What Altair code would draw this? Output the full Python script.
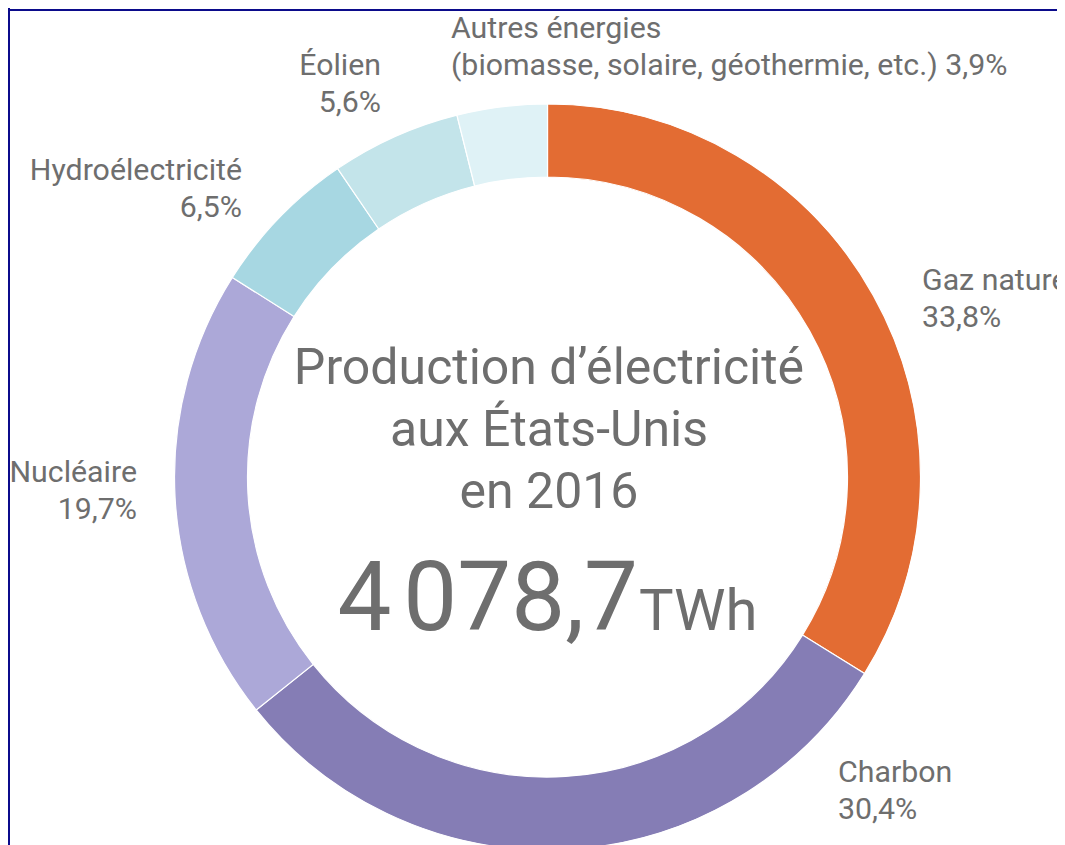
import altair as alt
import pandas as pd

# ---- data ----
CATEGORIES = ["Gaz naturel", "Charbon", "Nucléaire", "Hydroélectricité", "Éolien",
              "Autres énergies (biomasse, solaire, géothermie, etc.)"]
SHARES = [33.8, 30.4, 19.7, 6.5, 5.6, 3.9]
LABEL_NAMES = ["Gaz naturel", "Charbon", "Nucléaire", "Hydroélectricité", "Éolien",
               "Autres énergies\n(biomasse, solaire, géothermie, etc.)"]
PCT_SEPARATORS = ["\n", "\n", "\n", "\n", "\n", " "]
COLORS = ["#e36c33", "#857db5", "#aca8d8", "#a7d7e2", "#c3e4ea", "#dff2f6"]
TITLE_LINES = ["Production d’électricité", "aux États-Unis", "en 2016"]
TOTAL_TWH = 4078.7
UNIT = "TWh"

# ---- layout (pixels) ----
W, H = 1049, 837
CX, CY = 539.5, 469
R_OUT, R_IN = 373, 300
TEXT_COLOR = "#6e6e6e"
FONT = "Roboto"
# label anchor (x, y of first baseline) and alignment
LABEL_LAYOUT = [
    (914, 282, "left"),
    (830, 774, "left"),
    (129, 474, "right"),
    (234, 172, "right"),
    (373, 67, "right"),
    (443, 30, "left"),
]


def fr_pct(v):
    return f"{v:.1f}".replace(".", ",") + "%"


def fr_num(v):
    return f"{v:,.1f}".replace(",", "\u202f").replace(".", ",")


slices = pd.DataFrame({"cat": CATEGORIES, "share": SHARES, "idx": list(range(len(SHARES)))})

labels = pd.DataFrame({
    "text": [n + s + fr_pct(v) for n, s, v in zip(LABEL_NAMES, PCT_SEPARATORS, SHARES)],
    "px": [p[0] for p in LABEL_LAYOUT],
    "py": [p[1] for p in LABEL_LAYOUT],
    "side": [p[2] for p in LABEL_LAYOUT],
})

one = pd.DataFrame({"title": ["\n".join(TITLE_LINES)], "num": [fr_num(TOTAL_TWH)], "unit": [UNIT]})

arc = alt.Chart(slices).mark_arc(
    innerRadius=R_IN, outerRadius=R_OUT, stroke="white", strokeWidth=1.2
).encode(
    theta=alt.Theta("share:Q", stack=True),
    color=alt.Color("cat:N", scale=alt.Scale(domain=CATEGORIES, range=COLORS), legend=None),
    order=alt.Order("idx:Q", sort="ascending"),
    x=alt.value(CX),
    y=alt.value(CY),
)


def label_layer(side):
    return alt.Chart(labels).transform_filter(alt.datum.side == side).mark_text(
        align=side, baseline="alphabetic", font=FONT, fontSize=30.3, lineHeight=37,
        lineBreak="\n", color=TEXT_COLOR
    ).encode(
        x=alt.X("px:Q", scale=None, axis=None),
        y=alt.Y("py:Q", scale=None, axis=None),
        text="text:N",
    )


title = alt.Chart(one).mark_text(
    align="center", baseline="alphabetic", font=FONT, fontSize=50, lineHeight=62,
    lineBreak="\n", color=TEXT_COLOR
).encode(x=alt.value(541), y=alt.value(376), text="title:N")

number = alt.Chart(one).mark_text(
    align="right", baseline="alphabetic", font=FONT, fontSize=96, color=TEXT_COLOR
).encode(x=alt.value(630), y=alt.value(622), text="num:N")

unit = alt.Chart(one).mark_text(
    align="left", baseline="alphabetic", font=FONT, fontSize=58, color=TEXT_COLOR
).encode(x=alt.value(631), y=alt.value(622), text="unit:N")

top_rule = alt.Chart(one).mark_rule(color="#0b0b8b", strokeWidth=2).encode(
    x=alt.value(0), x2=alt.value(W), y=alt.value(2)
)
left_rule = alt.Chart(one).mark_rule(color="#0b0b8b", strokeWidth=2).encode(
    x=alt.value(1), y=alt.value(0), y2=alt.value(H)
)

chart = alt.layer(
    arc, label_layer("left"), label_layer("right"), title, number, unit, top_rule, left_rule
).properties(
    width=W, height=H, padding=0,
    autosize=alt.AutoSizeParams(type="none"),
).configure_view(stroke=None)

chart.save("out.html", embed_options={"renderer": "svg", "actions": False})
